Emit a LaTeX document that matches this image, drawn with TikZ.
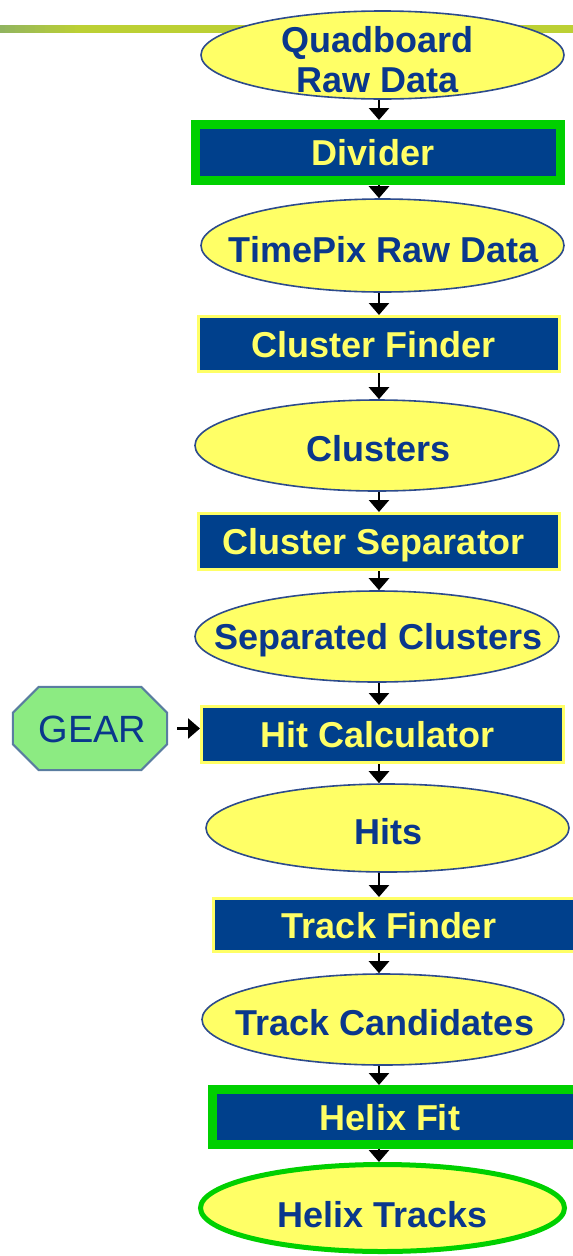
\documentclass[tikz,border=0pt]{standalone}
\usepackage{fontspec}
\setmainfont{Liberation Sans}
\usetikzlibrary{shapes.geometric,arrows.meta}
\definecolor{boxblue}{RGB}{0,64,140}
\definecolor{lyellow}{RGB}{255,255,102}
\definecolor{ellline}{RGB}{45,75,140}
\definecolor{txtblue}{RGB}{10,55,140}
\definecolor{brightgreen}{RGB}{0,208,0}
\definecolor{gearfill}{RGB}{140,235,130}
\definecolor{gearline}{RGB}{90,125,160}
\definecolor{barA}{RGB}{145,180,95}
\definecolor{barB}{RGB}{188,208,52}
\begin{document}
\begin{tikzpicture}[x=1pt,y=-1pt,
  ell/.style={ellipse, draw=ellline, line width=1.6pt, fill=lyellow, inner sep=0pt},
  elltext/.style={font=\fontsize{36}{40}\selectfont\bfseries, text=txtblue, inner sep=0pt, text height=26pt, text depth=0pt},
  procbox/.style={rectangle, draw=lyellow, line width=3pt, fill=boxblue, text=lyellow,
    font=\fontsize{36}{40}\selectfont\bfseries, inner sep=0pt, text height=26pt, text depth=0pt,
    minimum width=361pt, minimum height=55pt, execute at begin node=\kern-10pt},
  keybox/.style={procbox, draw=brightgreen, line width=9pt},
  geartext/.style={font=\fontsize{38}{40}\selectfont, text=txtblue, inner sep=0pt, text height=27pt, text depth=0pt},
  arr/.style={line width=2.6pt, -{Triangle[width=20pt,length=12pt]}},
]
\useasboundingbox (0,0) rectangle (573,1256);
% top bar
\foreach \i in {0,...,15} {
  \pgfmathsetmacro{\pc}{\i*100/15}
  \fill[barB!\pc!barA] (\i*5,25) rectangle (\i*5+5.5,33);
}
\fill[barB] (79.5,25) rectangle (573,33);

% data ellipses
\node[ell, minimum width=363pt, minimum height=88pt] (q) at (382.5,55) {};
\node[elltext, align=center, text height=, text depth=] (qT) at (377.5,59.5) {Quadboard\\Raw Data};
\node[ell, minimum width=363pt, minimum height=93pt] (tp) at (382.5,245.5) {};
\node[elltext] (tpT) at ([yshift=-4pt,xshift=1pt]tp.center) {TimePix Raw Data};
\node[ell, minimum width=364pt, minimum height=91pt] (cl) at (377,445.5) {};
\node[elltext] (clT) at ([yshift=-3pt,xshift=1.5pt]cl.center) {Clusters};
\node[ell, minimum width=364pt, minimum height=91pt] (sc) at (377,636.5) {};
\node[elltext] (scT) at ([xshift=1.5pt]sc.center) {Separated Clusters};
\node[ell, minimum width=363pt, minimum height=88pt] (hits) at (387.5,828) {};
\node[elltext] (hitsT) at ([yshift=-3pt,xshift=1.5pt]hits.center) {Hits};
\node[ell, minimum width=362pt, minimum height=91pt] (tc) at (383,1019.5) {};
\node[elltext] (tcT) at ([yshift=-3pt,xshift=2pt]tc.center) {Track Candidates};
\node[ell, draw=brightgreen, line width=5pt, minimum width=364pt, minimum height=87pt] (ht) at (382.5,1208) {};
\node[elltext] (htT) at ([yshift=-6pt]ht.center) {Helix Tracks};

% processors
\node[keybox, minimum width=365pt, minimum height=56pt] (div) at (378,152.5) {Divider};
\node[procbox] (cf) at (379,344) {Cluster Finder};
\node[procbox, minimum height=56pt] (cs) at (379,541.5) {Cluster Separator};
\node[procbox, minimum width=362pt, minimum height=56pt] (hc) at (382.5,734.5) {Hit Calculator};
\node[procbox, minimum height=53pt] (tf) at (394,925) {Track Finder};
\node[keybox, minimum width=365pt] (hf) at (395,1117) {Helix Fit};

% GEAR
\node[minimum width=154pt, minimum height=83pt, inner sep=0pt] (gear) at (90,728.5) {};
\draw[fill=gearfill, draw=gearline, line width=2pt]
  ([xshift=26pt]gear.north west) -- ([xshift=-26pt]gear.north east)
  -- ([yshift=-26pt]gear.north east) -- ([yshift=26pt]gear.south east)
  -- ([xshift=-26pt]gear.south east) -- ([xshift=26pt]gear.south west)
  -- ([yshift=26pt]gear.south west) -- ([yshift=-26pt]gear.north west) -- cycle;
\node[geartext] (gearT) at ([xshift=2.5pt]gear.center) {GEAR};

% connectors
\coordinate (ax) at (379,0);
\draw[arr] (q.south -| ax) -- (div.north -| ax);
\draw[arr] (div.south -| ax) -- (tp.north -| ax);
\draw[arr] (tp.south -| ax) -- (cf.north -| ax);
\draw[arr] (cf.south -| ax) -- (cl.north -| ax);
\draw[arr] (cl.south -| ax) -- (cs.north -| ax);
\draw[arr] (cs.south -| ax) -- (sc.north -| ax);
\draw[arr] (sc.south -| ax) -- (hc.north -| ax);
\draw[arr] (hc.south -| ax) -- (hits.north -| ax);
\draw[arr] (hits.south -| ax) -- (tf.north -| ax);
\draw[arr] (tf.south -| ax) -- (tc.north -| ax);
\draw[arr] (tc.south -| ax) -- (hf.north -| ax);
\draw[arr] (hf.south -| ax) -- (ht.north -| ax);
\draw[arr] ([xshift=10pt]gear.east) -- (gear.east -| hc.west);
\end{tikzpicture}
\end{document}
